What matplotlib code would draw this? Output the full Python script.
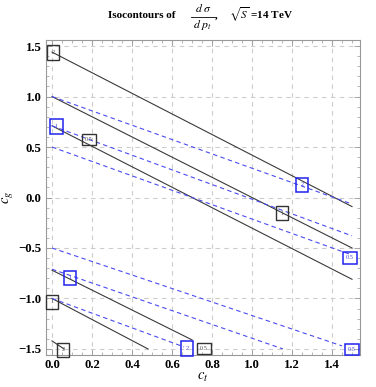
import matplotlib
matplotlib.use("Agg")
import matplotlib.pyplot as plt
from matplotlib.ticker import MultipleLocator
from matplotlib.lines import Line2D

plt.rcParams['mathtext.fontset'] = 'stix'
plt.rcParams['font.family'] = ['Liberation Serif', 'DejaVu Serif']

# ---- data: contour line segments (start / end points) ----
# black solid contours
black_ct0 = [0.0, 0.0, 0.0, 0.0, 0.0, 0.0]
black_cg0 = [1.44, 1.0, 0.71, -0.72, -1.0, -1.42]
black_ct1 = [1.5, 1.5, 1.5, 0.70, 0.48, 0.06]
black_cg1 = [-0.09, -0.5, -0.81, -1.41, -1.5, -1.5]

# blue dashed contours
blue_ct0 = [0.0, 0.0, 0.0, 0.0, 0.0, 0.0]
blue_cg0 = [1.0, 0.71, 0.5, -0.5, -0.71, -1.0]
blue_ct1 = [1.5, 1.5, 1.5, 1.45, 1.155, 0.66]
blue_cg1 = [-0.065, -0.38, -0.57, -1.47, -1.5, -1.48]

# contour labels
black_lab = ["2", "0.5", "1", "1", "2", "0.5"]
black_lab_ct = [0.005, 0.185, 1.15, 0.0, 0.055, 0.76]
black_lab_cg = [1.435, 0.575, -0.155, -1.035, -1.51, -1.495]

blue_lab = ["1", "2", "0.5", "1", "2", "0.5"]
blue_lab_ct = [0.022, 1.25, 1.49, 0.09, 0.675, 1.5]
blue_lab_cg = [0.705, 0.125, -0.595, -0.795, -1.495, -1.505]

xticks = [0.0, 0.2, 0.4, 0.6, 0.8, 1.0, 1.2, 1.4]
yticks = [-1.5, -1.0, -0.5, 0.0, 0.5, 1.0, 1.5]

W, H = 376, 387
fig = plt.figure(figsize=(W / 100, H / 100), dpi=100)
ax = fig.add_axes([46/W, 32/H, (360-46)/W, (355-40)/H])

ax.set_xlim(-0.03, 1.54)
ax.set_ylim(-1.56, 1.56)

for x0, y0, x1, y1 in zip(black_ct0, black_cg0, black_ct1, black_cg1):
    ax.plot([x0, x1], [y0, y1], color='#3a3a3a', lw=0.8, zorder=3)
for x0, y0, x1, y1 in zip(blue_ct0, blue_cg0, blue_ct1, blue_cg1):
    ax.plot([x0, x1], [y0, y1], color='#4b4bf0', lw=0.8, dashes=(4, 3), zorder=3)

def box_for(t):
    return 'square,pad=0.75' if len(t) == 1 else 'square,pad=0.55'

for t, x, y in zip(black_lab, black_lab_ct, black_lab_cg):
    ax.text(x, y, t, fontsize=4.5, color='#555555', ha='center', va='center', zorder=5,
            bbox=dict(boxstyle=box_for(t), fc='none', ec='#333333', lw=1.0))
for t, x, y in zip(blue_lab, blue_lab_ct, blue_lab_cg):
    ax.text(x, y, t, fontsize=4.5, color='#4444dd', ha='center', va='center', zorder=5,
            bbox=dict(boxstyle=box_for(t), fc='none', ec='#2222ee', lw=1.1))

ax.set_xticks(xticks)
ax.set_yticks(yticks)
ax.set_xticklabels([f"{v:.1f}" for v in xticks])
ax.set_yticklabels([f"{v:.1f}".replace('-', '\u2212') for v in yticks])
ax.xaxis.set_minor_locator(MultipleLocator(0.05))
ax.yaxis.set_minor_locator(MultipleLocator(0.1))
ax.tick_params(which='both', direction='in', top=True, right=True, color='#999999',
               labelsize=9.2)
ax.tick_params(which='major', length=4, width=0.6, pad=3)
ax.tick_params(which='minor', length=2.5, width=0.5)
for lbl in ax.get_xticklabels() + ax.get_yticklabels():
    lbl.set_fontweight('bold')
for s in ax.spines.values():
    s.set_color('#999999')
    s.set_linewidth(0.8)

ax.grid(True, which='major', color='#cccccc', lw=0.8, dashes=(4, 4))
ax.set_axisbelow(True)

ax.set_xlabel(r"$c_t$", fontsize=10.5, labelpad=0)
ax.set_ylabel(r"$c_g$", fontsize=10.5, labelpad=3)

# ---- title, assembled from pieces (pixel positions from top-left) ----
def fx(px):
    return px / W
def fy(py):
    return 1 - py / H

fig.text(fx(175), fy(15.5), "Isocontours of", ha='right', va='center',
         fontsize=8, fontweight='bold')
fig.text(fx(203), fy(8.5), r"$d\ \sigma$", ha='center', va='center', fontsize=8.5)
fig.text(fx(203), fy(24.5), r"$d\ p_t$", ha='center', va='center', fontsize=8.5)
fig.add_artist(Line2D([fx(191), fx(215)], [fy(16.5), fy(16.5)], color='black', lw=0.6))
fig.text(fx(215), fy(16), r",", ha='left', va='center', fontsize=8, fontweight='bold')
fig.text(fx(229), fy(15), r"$\sqrt{S}$ =14 TeV", ha='left', va='center',
         fontsize=8, fontweight='bold')

fig.savefig("out.png", dpi=100)
